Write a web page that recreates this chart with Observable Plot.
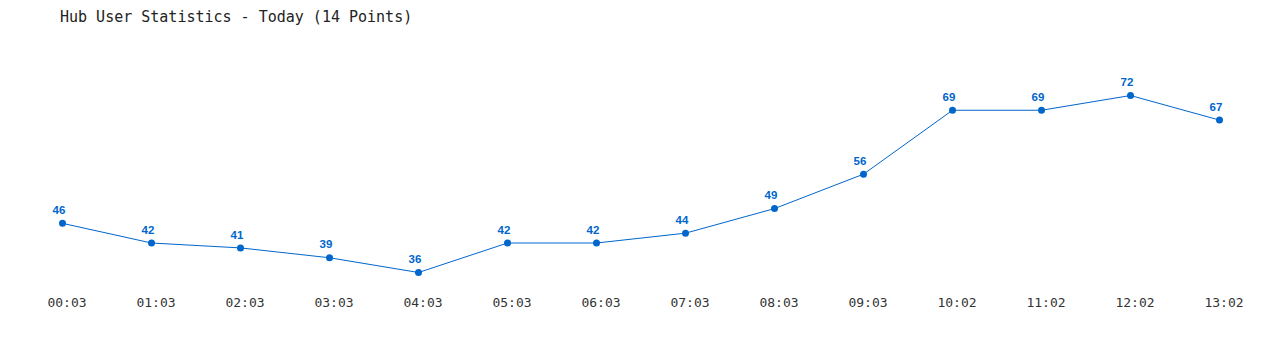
<!DOCTYPE html>
<html>
<head>
<meta charset="utf-8">
<script src="https://cdn.jsdelivr.net/npm/d3@7"></script>
<script src="https://cdn.jsdelivr.net/npm/@observablehq/plot@0.6"></script>
<style>
  html, body { margin: 0; padding: 0; background: #fff; }
  #title { height: 20px; padding-top: 10px; padding-left: 60px; font: 15px/15px "DejaVu Sans Mono", monospace; color: #222; white-space: pre; }
  #chart svg { display: block; }
</style>
</head>
<body>
<div id="title">Hub User Statistics - Today (14 Points)</div>
<div id="chart"></div>
<script>
const times = ["00:03","01:03","02:03","03:03","04:03","05:03","06:03","07:03","08:03","09:03","10:02","11:02","12:02","13:02"];
const users = [46,42,41,39,36,42,42,44,49,56,69,69,72,67];

const data = times.map((t, i) => ({time: t, users: users[i]}));
const blue = "#0066cc";

const chart = Plot.plot({
  width: 1280,
  height: 320,
  marginTop: 65,
  marginBottom: 78,
  marginLeft: 60,
  marginRight: 60,
  x: {type: "point", domain: times, range: [60, 1220.3], padding: 0, label: null},
  y: {domain: [36, 72], axis: null},
  style: {background: "#fff"},
  marks: [
    Plot.axisX({tickSize: 0, tickPadding: 25, dx: 4.5, fontSize: 13, fontFamily: "DejaVu Sans Mono", fill: "#333", label: null}),
    Plot.line(data, {x: "time", y: "users", stroke: blue, strokeWidth: 1}),
    Plot.dot(data, {x: "time", y: "users", r: 3.5, fill: blue, stroke: "none"}),
    Plot.text(data, {x: "time", y: "users", text: d => String(d.users), dy: -13, dx: -3.5, fill: blue, fontSize: 11.5, fontWeight: "bold", fontFamily: "Liberation Sans"})
  ]
});
document.getElementById("chart").appendChild(chart);
</script>
</body>
</html>
